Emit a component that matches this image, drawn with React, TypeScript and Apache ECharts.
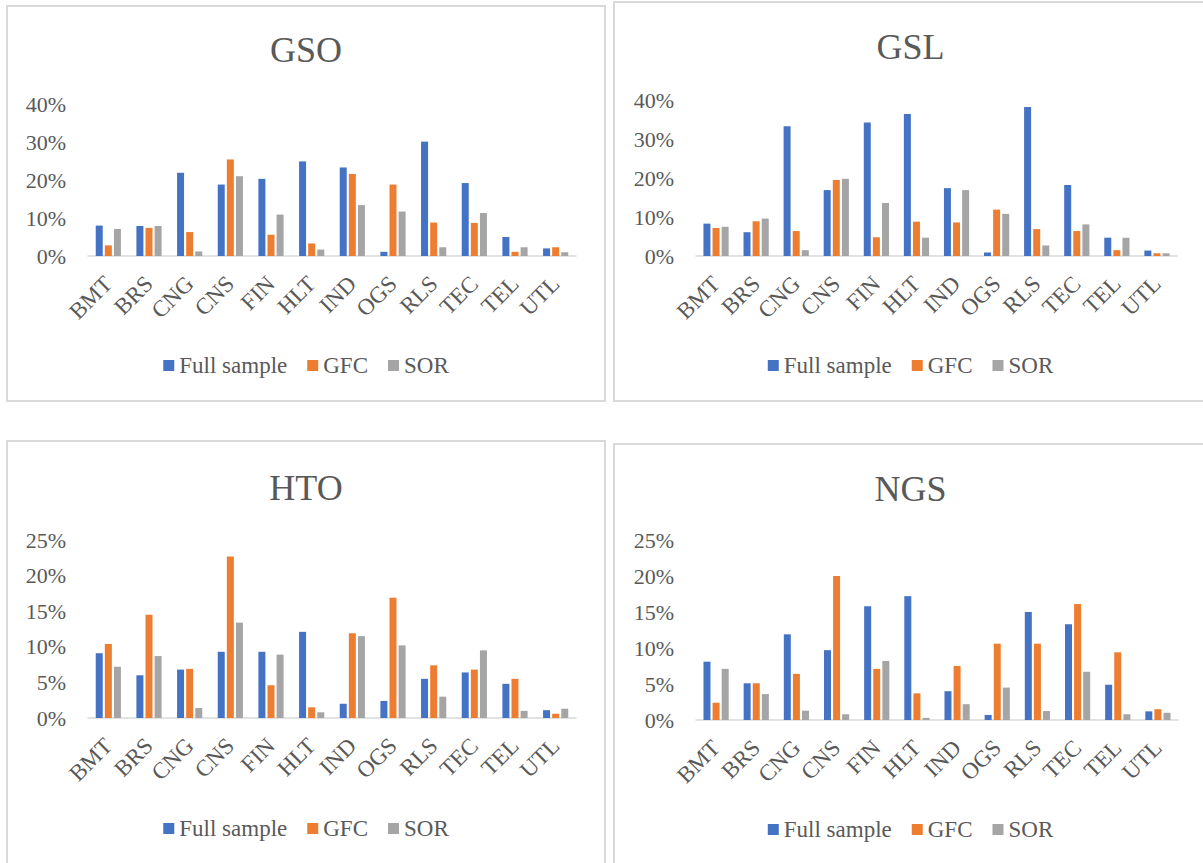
import React, { useEffect, useRef } from "react";
import * as echarts from "echarts";

const categories = ["BMT", "BRS", "CNG", "CNS", "FIN", "HLT", "IND", "OGS", "RLS", "TEC", "TEL", "UTL"];
const seriesNames = ["Full sample", "GFC", "SOR"];
const seriesColors = ["#4472C4", "#ED7D31", "#A5A5A5"];

const gsoFull = [8.0, 7.9, 21.9, 18.8, 20.3, 24.9, 23.3, 1.1, 30.1, 19.2, 5.0, 2.0];
const gsoGfc = [2.8, 7.4, 6.3, 25.4, 5.6, 3.3, 21.6, 18.8, 8.8, 8.7, 1.1, 2.3];
const gsoSor = [7.1, 7.9, 1.2, 21.0, 10.9, 1.7, 13.4, 11.7, 2.3, 11.3, 2.3, 1.0];

const gslFull = [8.3, 6.1, 33.3, 16.9, 34.2, 36.4, 17.4, 0.9, 38.2, 18.2, 4.7, 1.4];
const gslGfc = [7.2, 8.9, 6.4, 19.5, 4.8, 8.8, 8.6, 11.9, 6.9, 6.4, 1.5, 0.7];
const gslSor = [7.5, 9.6, 1.5, 19.8, 13.6, 4.7, 16.9, 10.8, 2.7, 8.1, 4.7, 0.7];

const htoFull = [9.1, 6.0, 6.8, 9.3, 9.3, 12.1, 2.0, 2.4, 5.5, 6.4, 4.8, 1.1];
const htoGfc = [10.4, 14.5, 6.9, 22.7, 4.6, 1.5, 11.9, 16.9, 7.4, 6.8, 5.5, 0.6];
const htoSor = [7.2, 8.7, 1.4, 13.4, 8.9, 0.8, 11.5, 10.2, 3.0, 9.5, 1.0, 1.3];

const ngsFull = [8.1, 5.1, 11.9, 9.7, 15.8, 17.2, 4.0, 0.7, 15.0, 13.3, 4.9, 1.2];
const ngsGfc = [2.4, 5.1, 6.4, 20.0, 7.1, 3.7, 7.5, 10.6, 10.6, 16.1, 9.4, 1.5];
const ngsSor = [7.1, 3.6, 1.3, 0.8, 8.2, 0.3, 2.2, 4.5, 1.25, 6.7, 0.8, 1.0];

const FONT = "Liberation Serif";
const TEXT = "#595959";

type PanelProps = {
  title: string;
  data: number[][];
  yMax: number;
  yInterval: number;
  box: { left: number; top: number; width: number; height: number };
  grid: { left: number; top: number; width: number; height: number };
  titleTop: number;
  legendTop: number;
};

function Panel(p: PanelProps) {
  const ref = useRef<HTMLDivElement>(null);
  useEffect(() => {
    if (!ref.current) return;
    const chart = echarts.init(ref.current, undefined, { renderer: "svg" });
    chart.setOption({
      animation: false,
      backgroundColor: "#ffffff",
      textStyle: { fontFamily: FONT, color: TEXT },
      title: {
        text: p.title,
        left: "center",
        top: p.titleTop,
        textStyle: { fontFamily: FONT, fontSize: 36, fontWeight: "normal", color: TEXT },
      },
      legend: {
        data: seriesNames,
        left: "center",
        top: p.legendTop,
        icon: "rect",
        itemWidth: 11,
        itemHeight: 11,
        itemGap: 20,
        textStyle: { fontFamily: FONT, fontSize: 23, color: TEXT },
      },
      grid: { left: p.grid.left, top: p.grid.top, width: p.grid.width, height: p.grid.height, containLabel: false },
      xAxis: {
        type: "category",
        data: categories,
        axisLine: { lineStyle: { color: "#D9D9D9", width: 1.5 } },
        axisTick: { show: false },
        axisLabel: { rotate: 45, fontFamily: FONT, fontSize: 23, color: TEXT, margin: 24, interval: 0 },
      },
      yAxis: {
        type: "value",
        min: 0,
        max: p.yMax,
        interval: p.yInterval,
        splitLine: { show: false },
        axisLine: { show: false },
        axisTick: { show: false },
        axisLabel: { fontFamily: FONT, fontSize: 22, color: TEXT, margin: 22, formatter: (v: number) => `${v}%` },
      },
      series: seriesNames.map((name, i) => ({
        name,
        type: "bar",
        data: p.data[i],
        barWidth: 7,
        barGap: "30%",
        itemStyle: { color: seriesColors[i] },
      })),
    });
    return () => chart.dispose();
  }, []);
  return (
    <div
      style={{
        position: "absolute",
        left: p.box.left,
        top: p.box.top,
        width: p.box.width,
        height: p.box.height,
        border: "2px solid #D9D9D9",
        boxSizing: "border-box",
        background: "#fff",
        overflow: "hidden",
      }}
    >
      <div ref={ref} style={{ position: "absolute", left: -2, top: -2, width: p.box.width, height: p.box.height }} />
    </div>
  );
}

export default function App() {
  return (
    <div style={{ position: "absolute", left: 0, top: 0, width: 1203, height: 863, background: "#fff", overflow: "hidden" }}>
      <Panel
        title="GSO"
        data={[gsoFull, gsoGfc, gsoSor]}
        yMax={40}
        yInterval={10}
        box={{ left: 6, top: 5, width: 600, height: 397 }}
        grid={{ left: 82, top: 99, width: 488, height: 152 }}
        titleTop={22}
        legendTop={344}
      />
      <Panel
        title="GSL"
        data={[gslFull, gslGfc, gslSor]}
        yMax={40}
        yInterval={10}
        box={{ left: 613, top: 1, width: 595, height: 401 }}
        grid={{ left: 83, top: 99, width: 481, height: 156 }}
        titleTop={23}
        legendTop={348}
      />
      <Panel
        title="HTO"
        data={[htoFull, htoGfc, htoSor]}
        yMax={25}
        yInterval={5}
        box={{ left: 6, top: 440, width: 600, height: 430 }}
        grid={{ left: 82, top: 100, width: 488, height: 178 }}
        titleTop={25}
        legendTop={372}
      />
      <Panel
        title="NGS"
        data={[ngsFull, ngsGfc, ngsSor]}
        yMax={25}
        yInterval={5}
        box={{ left: 613, top: 443, width: 595, height: 430 }}
        grid={{ left: 83, top: 97, width: 482, height: 180 }}
        titleTop={23}
        legendTop={370}
      />
    </div>
  );
}
